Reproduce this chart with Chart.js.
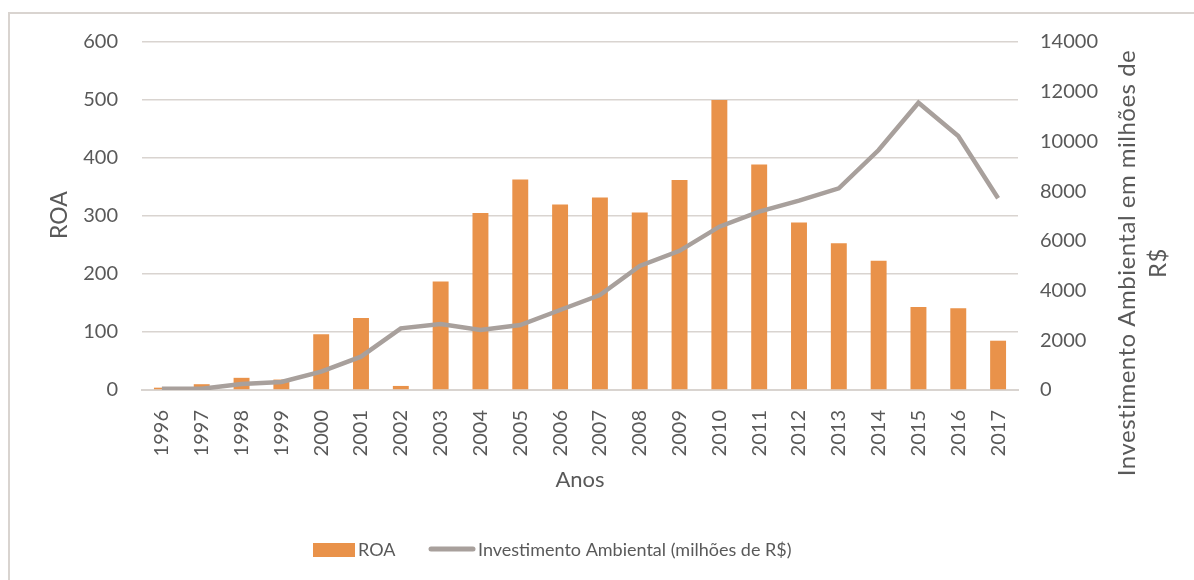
<!DOCTYPE html>
<html>
<head>
<meta charset="utf-8">
<script src="https://cdn.jsdelivr.net/npm/chart.js@4"></script>
<style>
  body { margin: 0; background: #fff; }
  #wrap { position: relative; width: 1194px; height: 580px; overflow: hidden; }
  #frame { position: absolute; left: 8px; top: 12px; width: 1300px; height: 700px;
           border-left: 2px solid #D9D4D0; border-top: 2px solid #D9D4D0; }
  #chart { position: absolute; left: 0; top: 0; }
</style>
</head>
<body>
<div id="wrap">
  <div id="frame"></div>
  <canvas id="chart" width="1194" height="580"></canvas>
</div>
<script>
// dados
const anos = ['1996','1997','1998','1999','2000','2001','2002','2003','2004','2005','2006',
              '2007','2008','2009','2010','2011','2012','2013','2014','2015','2016','2017'];
const roa = [4, 10, 21, 18, 96, 124, 7, 187, 305, 363, 320, 332, 306, 362, 500, 389, 289, 253, 223, 143, 141, 85];
const investimento = [50, 50, 240, 320, 740, 1340, 2480, 2655, 2414, 2615, 3218, 3822, 4988, 5600,
                      6570, 7174, 7616, 8114, 9655, 11558, 10218, 7712];
const roaTicks = [0, 100, 200, 300, 400, 500, 600];
const invTicks = [0, 2000, 4000, 6000, 8000, 10000, 12000, 14000];

const corBarra = '#E9924A';
const corLinha = '#A8A09C';
const corTexto = '#595959';
const fonte = 'Lato';

// titulos dos eixos e legenda desenhados a mao
const extras = {
  id: 'extras',
  afterDraw(chart) {
    const ctx = chart.ctx;
    const area = chart.chartArea;
    ctx.save();
    ctx.fillStyle = corTexto;
    ctx.textAlign = 'center';
    ctx.textBaseline = 'middle';

    ctx.font = '23px ' + fonte;
    ctx.save();
    ctx.translate(60, 215);
    ctx.rotate(-Math.PI / 2);
    ctx.fillText('ROA', 0, 0);
    ctx.restore();

    ctx.font = '24px ' + fonte;
    ctx.save();
    ctx.translate(1127, 263);
    ctx.rotate(-Math.PI / 2);
    ctx.letterSpacing = '0.5px';
    ctx.fillText('Investimento Ambiental em milhões de', 0, 0);
    ctx.fillText('R$', 0, 31);
    ctx.restore();

    ctx.font = '22px ' + fonte;
    ctx.fillText('Anos', (area.left + area.right) / 2, 480);

    // legenda
    const ds = chart.data.datasets;
    ctx.font = '18px ' + fonte;
    ctx.textAlign = 'left';
    ctx.fillStyle = ds[0].backgroundColor;
    ctx.fillRect(313, 543, 42, 14);
    ctx.fillStyle = corTexto;
    ctx.fillText(ds[0].label, 358, 550);

    ctx.strokeStyle = ds[1].borderColor;
    ctx.lineWidth = 5;
    ctx.lineCap = 'round';
    ctx.beginPath();
    ctx.moveTo(431, 549);
    ctx.lineTo(473, 549);
    ctx.stroke();
    ctx.fillText(ds[1].label, 478, 550);
    ctx.restore();
  }
};

new Chart(document.getElementById('chart'), {
  data: {
    labels: anos,
    datasets: [
      {
        type: 'bar',
        label: 'ROA',
        data: roa,
        backgroundColor: corBarra,
        yAxisID: 'y',
        barPercentage: 0.4,
        categoryPercentage: 1.0,
        order: 2
      },
      {
        type: 'line',
        label: 'Investimento Ambiental (milhões de R$)',
        data: investimento,
        borderColor: corLinha,
        borderWidth: 4.5,
        pointRadius: 0,
        tension: 0,
        yAxisID: 'y1',
        order: 1
      }
    ]
  },
  options: {
    responsive: false,
    animation: false,
    layout: { padding: { top: 42, left: 0, right: 0, bottom: 50 } },
    plugins: {
      legend: { display: false },
      tooltip: { enabled: false }
    },
    scales: {
      x: {
        grid: { display: false },
        border: { display: true, color: '#D9D4D0', width: 2 },
        ticks: {
          color: corTexto,
          font: { family: fonte, size: 20 },
          minRotation: 90,
          maxRotation: 90,
          padding: 12
        },
        afterFit(scale) { scale.height = 140; }
      },
      y: {
        position: 'left',
        min: 0,
        max: 600,
        grid: { color: '#D9D4D0', lineWidth: 1.5, drawTicks: false },
        border: { display: false },
        afterBuildTicks(scale) { scale.ticks = roaTicks.map(v => ({ value: v })); },
        ticks: {
          color: corTexto,
          font: { family: fonte, size: 20 },
          padding: 24,
          callback: v => String(v)
        },
        afterFit(scale) { scale.width = 142; }
      },
      y1: {
        position: 'right',
        min: 0,
        max: 14000,
        grid: { display: false, drawTicks: false },
        border: { display: false },
        afterBuildTicks(scale) { scale.ticks = invTicks.map(v => ({ value: v })); },
        ticks: {
          color: corTexto,
          font: { family: fonte, size: 20 },
          padding: 22,
          callback: v => String(v)
        },
        afterFit(scale) { scale.width = 176; }
      }
    }
  },
  plugins: [extras]
});
</script>
</body>
</html>
